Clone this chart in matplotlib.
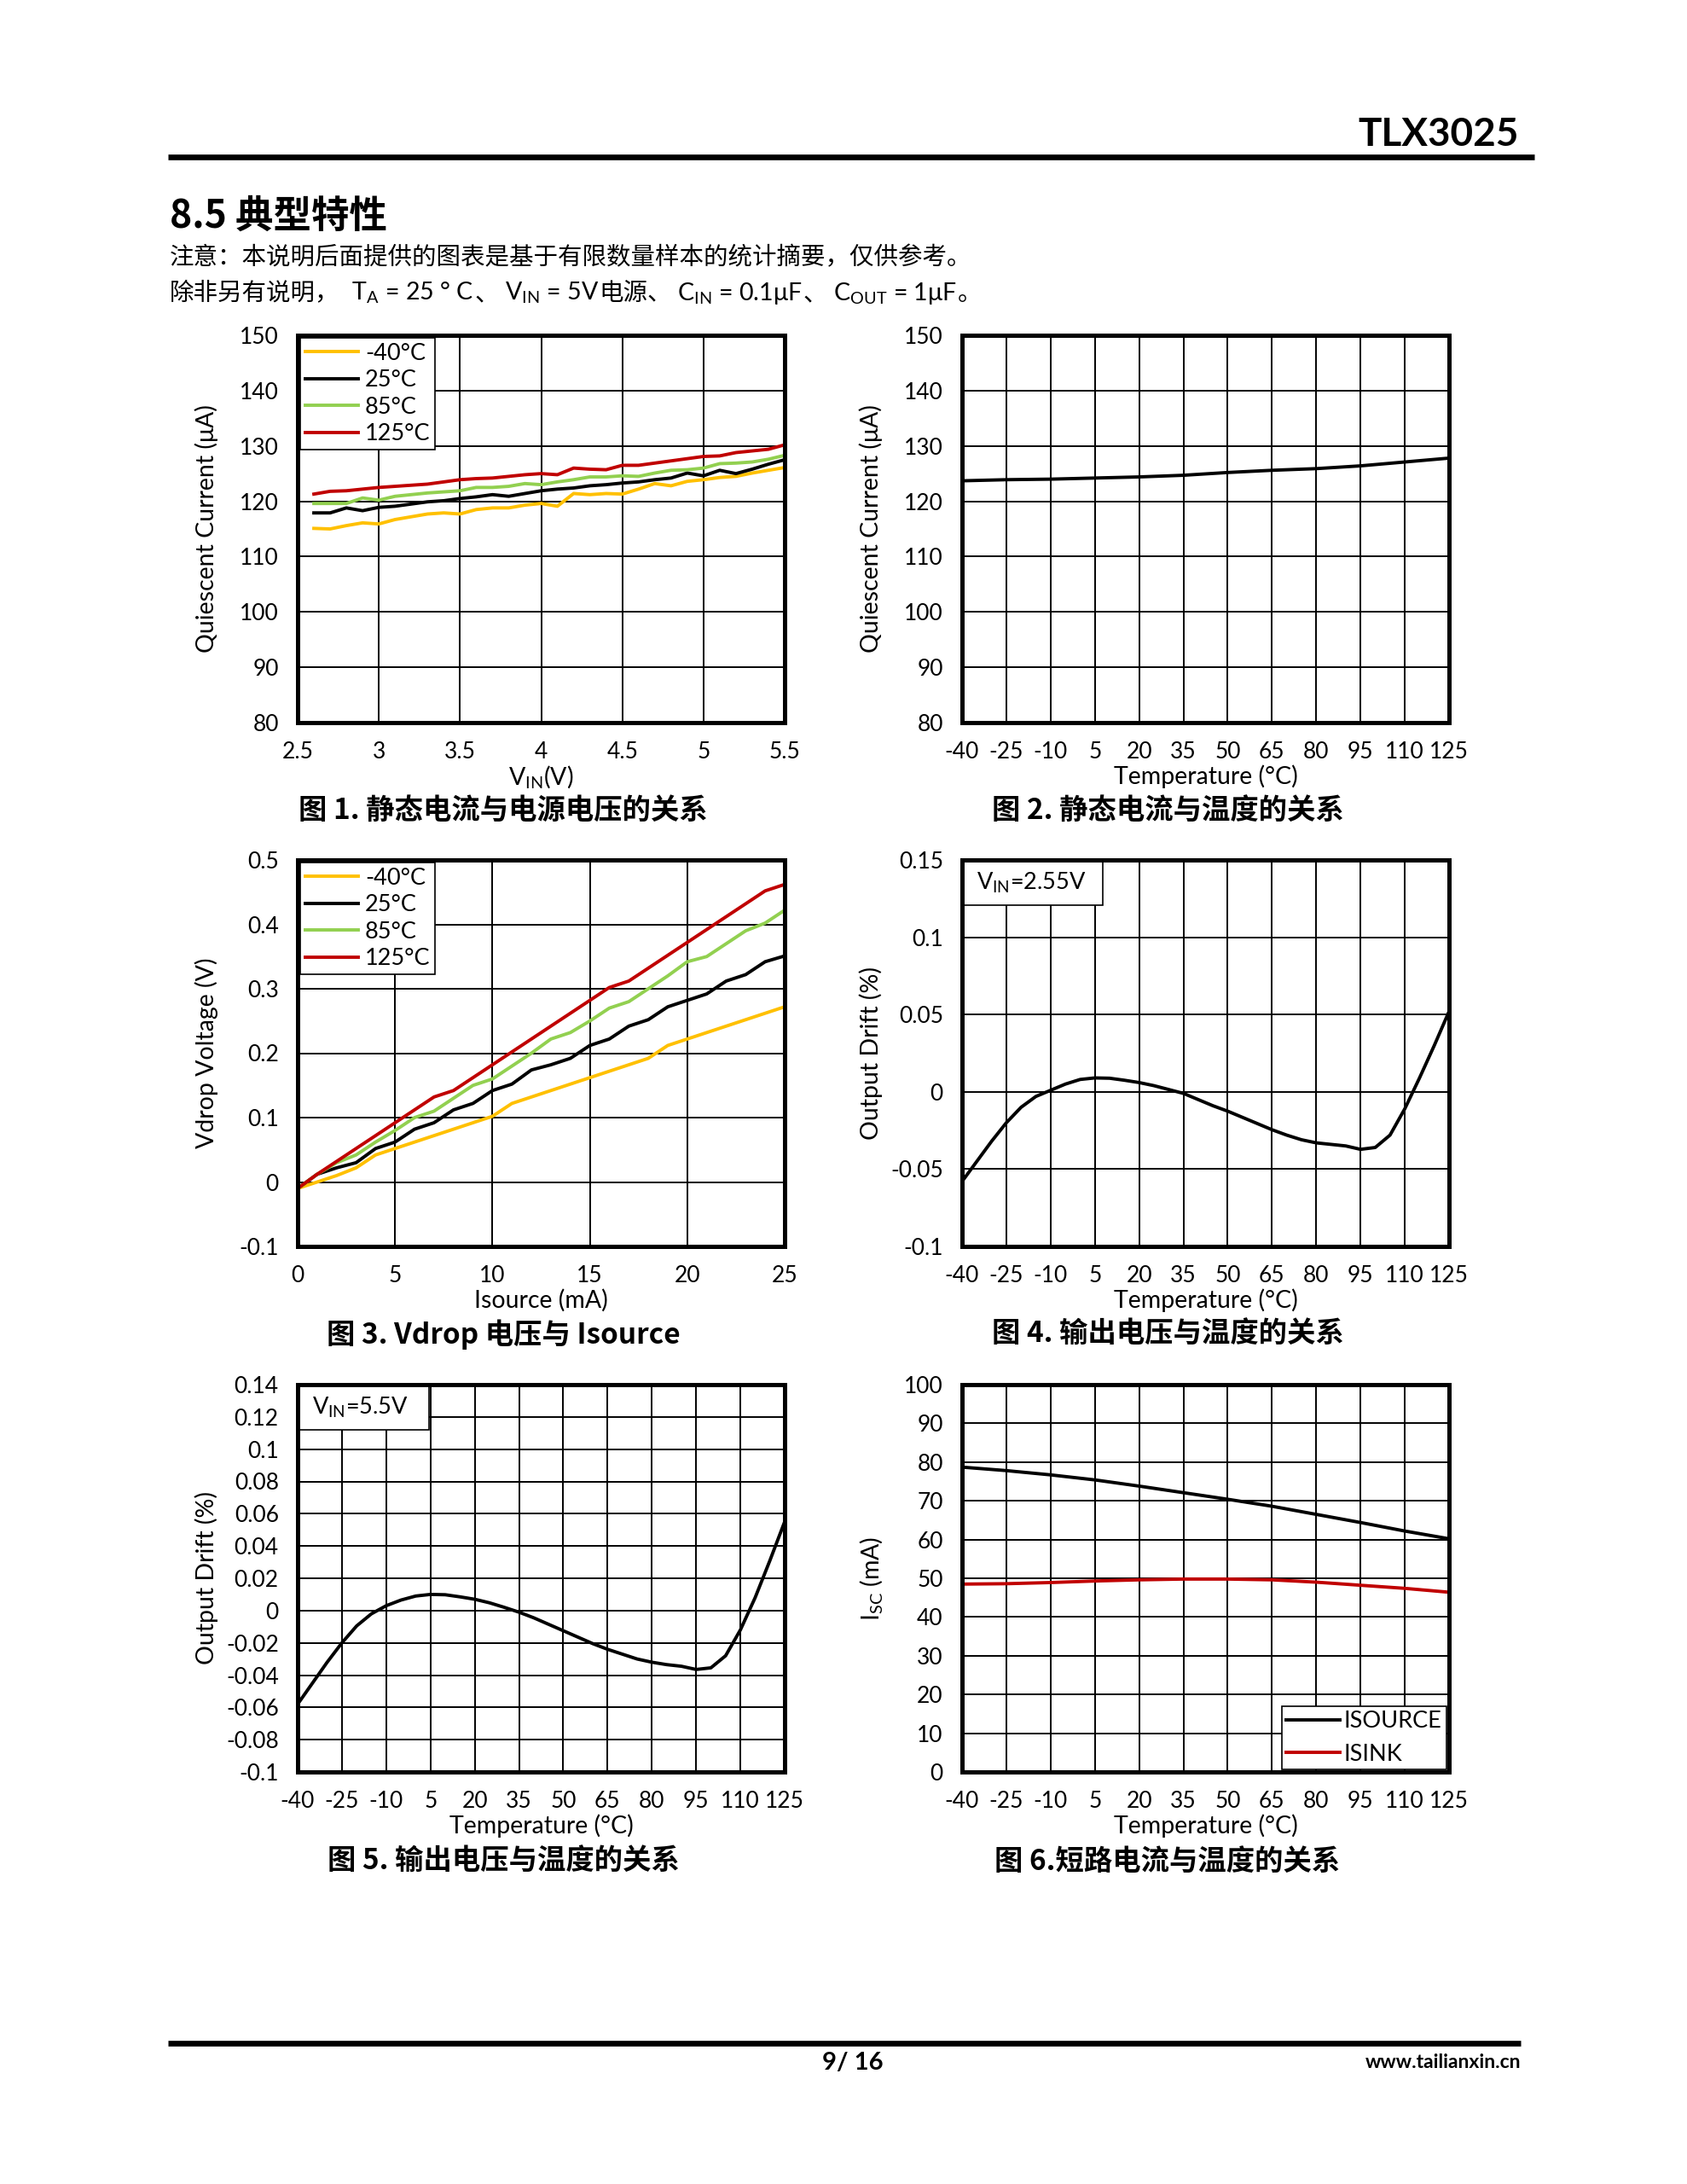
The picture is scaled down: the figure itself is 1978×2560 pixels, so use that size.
import matplotlib
matplotlib.use("Agg")
import matplotlib.pyplot as plt
from matplotlib.patches import Rectangle
from matplotlib.ticker import FuncFormatter

plt.rcParams['font.family'] = ['Lato', 'Noto Sans CJK SC', 'DejaVu Sans']
plt.rcParams['mathtext.fontset'] = 'custom'
plt.rcParams['mathtext.rm'] = 'Lato'
plt.rcParams['mathtext.it'] = 'Lato:italic'
plt.rcParams['mathtext.bf'] = 'Lato:bold'
CJK = ['Noto Sans CJK SC', 'DejaVu Sans']

"Data read off the reference"

temp_labels = ['-40°C', '25°C', '85°C', '125°C']
temp_colors = ['#FFC000', '#000000', '#92D050', '#C00000']

# fig 1: quiescent current vs VIN
vin = [2.6, 2.7, 2.8, 2.9, 3.0, 3.1, 3.2, 3.3, 3.4, 3.5, 3.6, 3.7, 3.8, 3.9, 4.0,
       4.1, 4.2, 4.3, 4.4, 4.5, 4.6, 4.7, 4.8, 4.9, 5.0, 5.1, 5.2, 5.3, 5.4, 5.5]
iq_m40 = [115.1, 115.0, 115.6, 116.1, 115.9, 116.7, 117.2, 117.7, 117.9, 117.7, 118.5, 118.8, 118.8, 119.3, 119.6,
          119.1, 121.4, 121.2, 121.4, 121.3, 122.2, 123.2, 122.8, 123.6, 123.9, 124.3, 124.5, 125.1, 125.6, 126.1]
iq_25 = [117.9, 117.9, 118.8, 118.3, 118.9, 119.1, 119.5, 119.9, 120.1, 120.5, 120.8, 121.2, 120.9, 121.4, 121.9,
         122.2, 122.4, 122.8, 123.0, 123.3, 123.5, 123.9, 124.2, 125.1, 124.6, 125.6, 125.0, 125.8, 126.7, 127.5]
iq_85 = [119.6, 119.6, 119.6, 120.6, 120.2, 120.9, 121.2, 121.5, 121.7, 121.9, 122.5, 122.5, 122.7, 123.2, 123.0,
         123.5, 123.9, 124.4, 124.4, 124.6, 124.5, 125.1, 125.6, 125.7, 126.0, 126.8, 126.9, 127.1, 127.6, 128.3]
iq_125 = [121.3, 121.8, 121.9, 122.2, 122.5, 122.7, 122.9, 123.1, 123.5, 123.9, 124.1, 124.2, 124.5, 124.8, 125.0,
          124.8, 126.0, 125.8, 125.7, 126.5, 126.5, 126.9, 127.3, 127.7, 128.1, 128.2, 128.8, 129.1, 129.4, 130.2]

# fig 2: quiescent current vs temperature
temp12 = [-40, -25, -10, 5, 20, 35, 50, 65, 80, 95, 110, 125]
iq_temp = [123.7, 123.9, 124.0, 124.2, 124.4, 124.7, 125.2, 125.6, 125.9, 126.4, 127.1, 127.8]

# fig 3: Vdrop vs Isource
isrc = [0, 1, 2, 3, 4, 5, 6, 7, 8, 9, 10, 11, 12, 13, 14, 15, 16, 17, 18, 19, 20, 21, 22, 23, 24, 25]
vd_m40 = [-0.01, 0.0, 0.01, 0.022, 0.042, 0.052, 0.062, 0.072, 0.082, 0.092, 0.102, 0.122, 0.132, 0.142, 0.152,
          0.162, 0.172, 0.182, 0.192, 0.212, 0.222, 0.232, 0.242, 0.252, 0.262, 0.272]
vd_25 = [-0.01, 0.012, 0.022, 0.03, 0.052, 0.062, 0.082, 0.092, 0.112, 0.122, 0.142, 0.152, 0.174, 0.182, 0.192,
         0.212, 0.222, 0.242, 0.252, 0.272, 0.282, 0.292, 0.312, 0.322, 0.342, 0.351]
vd_85 = [-0.01, 0.012, 0.03, 0.042, 0.062, 0.08, 0.1, 0.11, 0.13, 0.15, 0.16, 0.18, 0.2, 0.222, 0.232,
         0.25, 0.27, 0.28, 0.3, 0.32, 0.342, 0.35, 0.37, 0.39, 0.402, 0.422]
vd_125 = [-0.01, 0.012, 0.032, 0.052, 0.072, 0.092, 0.112, 0.132, 0.142, 0.162, 0.182, 0.202, 0.222, 0.242, 0.262,
          0.282, 0.302, 0.312, 0.332, 0.352, 0.372, 0.392, 0.412, 0.432, 0.452, 0.462]

# fig 4 / fig 5: output drift vs temperature
temp5 = [-40, -35, -30, -25, -20, -15, -10, -5, 0, 5, 10, 15, 20, 25, 30, 35, 40, 45, 50, 55, 60,
         65, 70, 75, 80, 85, 90, 95, 100, 105, 110, 115, 120, 125]
drift_255 = [-0.058, -0.045, -0.032, -0.020, -0.010, -0.003, 0.001, 0.005, 0.008, 0.009, 0.0088, 0.0075,
             0.006, 0.004, 0.0015, -0.001, -0.005, -0.009, -0.0125, -0.0165, -0.0205, -0.0245, -0.028,
             -0.031, -0.033, -0.034, -0.035, -0.0372, -0.036, -0.028, -0.011, 0.009, 0.030, 0.052]
drift_55 = [-0.058, -0.045, -0.032, -0.020, -0.0095, -0.002, 0.003, 0.0065, 0.009, 0.010, 0.0098, 0.0085,
            0.007, 0.0048, 0.002, -0.001, -0.0045, -0.0085, -0.0125, -0.0165, -0.0205, -0.024, -0.027,
            -0.030, -0.032, -0.0335, -0.0345, -0.0365, -0.0355, -0.028, -0.012, 0.008, 0.031, 0.055]

# fig 6: short circuit current vs temperature
isc_source = [78.7, 77.8, 76.7, 75.4, 73.8, 72.1, 70.4, 68.6, 66.5, 64.4, 62.2, 60.2]
isc_sink = [48.5, 48.6, 48.9, 49.3, 49.6, 49.8, 49.8, 49.6, 49.0, 48.2, 47.4, 46.4]

# ticks
vin_ticks = [2.5, 3, 3.5, 4, 4.5, 5, 5.5]
iq_ticks = [80, 90, 100, 110, 120, 130, 140, 150]
isrc_ticks = [0, 5, 10, 15, 20, 25]
vd_ticks = [-0.1, 0, 0.1, 0.2, 0.3, 0.4, 0.5]
drift4_ticks = [-0.1, -0.05, 0, 0.05, 0.1, 0.15]
drift5_ticks = [-0.1, -0.08, -0.06, -0.04, -0.02, 0, 0.02, 0.04, 0.06, 0.08, 0.1, 0.12, 0.14]
isc_ticks = [0, 10, 20, 30, 40, 50, 60, 70, 80, 90, 100]

captions = ['图 1. 静态电流与电源电压的关系', '图 2. 静态电流与温度的关系', '图 3. Vdrop 电压与 Isource',
            '图 4. 输出电压与温度的关系', '图 5. 输出电压与温度的关系', '图 6.短路电流与温度的关系']

W, H = 1978, 2560
fig = plt.figure(figsize=(W / 100, H / 100), dpi=100)
bg = fig.add_axes([0, 0, 1, 1])
bg.set_xlim(0, W)
bg.set_ylim(H, 0)
bg.axis('off')


def make_axes(left, top, right, bottom):
    return fig.add_axes([left / W, 1 - bottom / H, (right - left) / W, (bottom - top) / H])


def style(ax, xticks, yticks, xlabel, ylabel):
    ax.set_xlim(xticks[0], xticks[-1])
    ax.set_ylim(yticks[0], yticks[-1])
    ax.set_xticks(xticks)
    ax.set_yticks(yticks)
    fmt = FuncFormatter(lambda v, pos: f"{round(v, 4):g}")
    ax.xaxis.set_major_formatter(fmt)
    ax.yaxis.set_major_formatter(fmt)
    ax.grid(True, color='black', linewidth=1.4)
    ax.set_axisbelow(True)
    for s in ax.spines.values():
        s.set_linewidth(3.6)
        s.set_zorder(6)
    ax.tick_params(length=0, labelsize=19)
    ax.tick_params(axis='x', pad=16)
    ax.tick_params(axis='y', pad=16)
    ax.set_xlabel(xlabel, fontsize=20.5, va='center')
    ax.set_ylabel(ylabel, fontsize=20.5, va='center')
    ax.xaxis.set_label_coords(0.5, -0.14)
    ax.yaxis.set_label_coords(-0.187, 0.5)


def temp_legend(ax):
    leg = ax.legend(loc='upper left', fancybox=False, edgecolor='black', framealpha=1, fontsize=19.5,
                    borderaxespad=0.12, borderpad=0.2, labelspacing=0.24, handlelength=2.3,
                    handletextpad=0.3)
    leg.get_frame().set_linewidth(1.2)
    leg.set_zorder(5)


def vin_box(ax, text, w, h):
    ax.add_patch(Rectangle((0.004, 1 - h - 0.004), w, h, transform=ax.transAxes, facecolor='white',
                           edgecolor='black', linewidth=1.2, zorder=4))
    ax.text(0.03, 1 - h / 2 - 0.004, text, transform=ax.transAxes, fontsize=19.5, va='center', zorder=5)


col = [(349, 920), (1128, 1699)]
row = [(393, 847), (1008, 1461), (1623, 2077)]
temp_x_label = 'Temperature (°C)'
LW = 2.8

# fig 1
ax1 = make_axes(col[0][0], row[0][0], col[0][1], row[0][1])
for y, lab, c in zip([iq_m40, iq_25, iq_85, iq_125], temp_labels, temp_colors):
    ax1.plot(vin, y, color=c, lw=LW, label=lab)
style(ax1, vin_ticks, iq_ticks, r'$\mathregular{V_{IN}}$(V)', 'Quiescent Current (μA)')
temp_legend(ax1)

# fig 2
ax2 = make_axes(col[1][0], row[0][0], col[1][1], row[0][1])
ax2.plot(temp12, iq_temp, color='black', lw=LW)
style(ax2, temp12, iq_ticks, temp_x_label, 'Quiescent Current (μA)')

# fig 3
ax3 = make_axes(col[0][0], row[1][0], col[0][1], row[1][1])
for y, lab, c in zip([vd_m40, vd_25, vd_85, vd_125], temp_labels, temp_colors):
    ax3.plot(isrc, y, color=c, lw=LW, label=lab)
style(ax3, isrc_ticks, vd_ticks, 'Isource (mA)', 'Vdrop Voltage (V)')
temp_legend(ax3)

# fig 4
ax4 = make_axes(col[1][0], row[1][0], col[1][1], row[1][1])
ax4.plot(temp5, drift_255, color='black', lw=LW)
style(ax4, temp12, drift4_ticks, temp_x_label, 'Output Drift (%)')
vin_box(ax4, r'$\mathregular{V_{IN}}$=2.55V', 0.285, 0.112)

# fig 5
ax5 = make_axes(col[0][0], row[2][0], col[0][1], row[2][1])
ax5.plot(temp5, drift_55, color='black', lw=LW)
style(ax5, temp12, drift5_ticks, temp_x_label, 'Output Drift (%)')
vin_box(ax5, r'$\mathregular{V_{IN}}$=5.5V', 0.265, 0.112)

# fig 6
ax6 = make_axes(col[1][0], row[2][0], col[1][1], row[2][1])
ax6.plot(temp12, isc_source, color='black', lw=LW, label='ISOURCE')
ax6.plot(temp12, isc_sink, color='#C00000', lw=LW, label='ISINK')
style(ax6, temp12, isc_ticks, temp_x_label, r'$\mathregular{I_{SC}}$ (mA)')
leg = ax6.legend(loc='lower right', fancybox=False, edgecolor='black', framealpha=1, fontsize=19.5,
                 borderaxespad=0.1, borderpad=0.2, labelspacing=0.5, handlelength=2.3,
                 handletextpad=0.2)
leg.get_frame().set_linewidth(1.2)
leg.set_zorder(5)

# captions
cap_x = [590, 1369]
cap_y = [950, 1564, 2182]
for i, cap in enumerate(captions):
    bg.text(cap_x[i % 2], cap_y[i // 2], cap, family=CJK, fontsize=24, weight='bold',
            ha='center', va='center')

# header
bg.plot([197, 1799], [184, 184], color='black', lw=4.8, solid_capstyle='butt')
bg.text(1781, 158, 'TLX3025', family=['Lato', 'DejaVu Sans'], fontsize=33,
        weight='bold', ha='right', va='center')
bg.text(199, 254, '8.5 典型特性', family=CJK, fontsize=32, weight='bold', ha='left', va='center')
bg.text(199, 302, '注意：本说明后面提供的图表是基于有限数量样本的统计摘要，仅供参考。', family=CJK,
        fontsize=20.5, ha='left', va='center')

# second note line, built from pieces so subscripts work
pieces = [('除非另有说明，', CJK), (r'  $\mathregular{T_A}$ = 25 ° C ', ['Lato']), ('、', CJK),
          (r' $\mathregular{V_{IN}}$ = 5V ', ['Lato']), ('电源、', CJK),
          (r' $\mathregular{C_{IN}}$ = 0.1μF ', ['Lato']), ('、', CJK),
          (r' $\mathregular{C_{OUT}}$ = 1μF ', ['Lato']), ('。', CJK)]
renderer = fig.canvas.get_renderer()
x = 199
for s, fam in pieces:
    t = bg.text(x, 352, s, family=fam, fontsize=20.5, ha='left', va='baseline')
    x += t.get_window_extent(renderer).width

# footer
bg.plot([197, 1783], [2395, 2395], color='black', lw=4.8, solid_capstyle='butt')
bg.text(1000, 2418, '9/ 16', family=['Lato', 'DejaVu Sans'], fontsize=21,
        weight='bold', ha='center', va='center')
bg.text(1783, 2418, 'www.tailianxin.cn', family=['Lato', 'DejaVu Sans'], fontsize=16.5,
        weight='bold', ha='right', va='center')

fig.savefig('out.png', dpi=100)
